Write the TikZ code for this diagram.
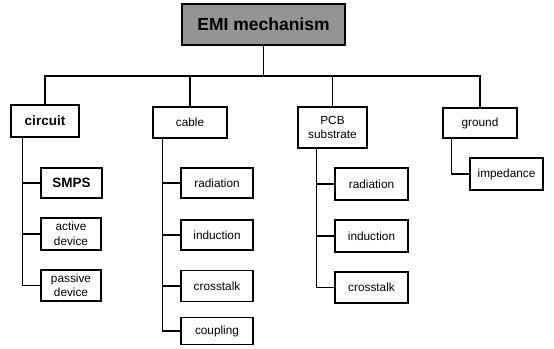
\documentclass[tikz,border=0pt]{standalone}
\usepackage{fontspec}
\setmainfont{Liberation Sans}
\begin{document}
\begin{tikzpicture}[x=1pt,y=-1pt,
  box/.style={draw=black,line width=1.1pt,fill=white,inner sep=0pt,
    align=center,font=\fontsize{11.8}{14.5}\selectfont},
  boldbox/.style={box,font=\fontsize{13.5}{16}\selectfont\bfseries},
  titlebox/.style={draw=black,line width=1.3pt,fill=black!42,inner sep=0pt,
    font=\fontsize{17.5}{20}\selectfont\bfseries},
  link/.style={draw=black,line width=1.1pt}]
\useasboundingbox (0,0) rectangle (554,348);

% root
\node[titlebox,minimum width=163pt,minimum height=41pt] (root) at (263.5,24.5) {EMI mechanism};

% categories
\node[boldbox,minimum width=68pt,minimum height=32pt] (circuit) at (45,121) {circuit};
\node[box,minimum width=74pt,minimum height=31pt] (cable) at (190,122.5) {cable};
\node[box,minimum width=69pt,minimum height=41pt] (pcb) at (332.5,127.5) {PCB\\substrate};
\node[box,minimum width=74pt,minimum height=30pt] (ground) at (480,123) {ground};

% circuit items
\node[boldbox,minimum width=61pt,minimum height=30pt] (smps) at (71.5,183) {SMPS};
\node[box,minimum width=60pt,minimum height=32pt] (active) at (71,234) {active\\device};
\node[box,minimum width=60pt,minimum height=31pt] (passive) at (71,285.5) {passive\\device};

% cable items
\node[box,minimum width=72pt,minimum height=30pt] (crad) at (217,183) {radiation};
\node[box,minimum width=72pt,minimum height=30pt] (cind) at (217,235) {induction};
\node[box,minimum width=72pt,minimum height=31pt] (ccross) at (217,286) {crosstalk};
\node[box,minimum width=72pt,minimum height=27pt] (ccoup) at (217,331) {coupling};

% PCB items
\node[box,minimum width=73pt,minimum height=32pt] (prad) at (371.5,184) {radiation};
\node[box,minimum width=73pt,minimum height=32pt] (pind) at (371.5,236) {induction};
\node[box,minimum width=73pt,minimum height=31pt] (pcross) at (371.5,287.5) {crosstalk};

% ground items
\node[box,minimum width=73pt,minimum height=32pt] (imp) at (506.5,174) {impedance};

% top-level bus
\coordinate (bus) at (0,76);
\draw[link] (root.south) -- (root.south |- bus);
\draw[link] (circuit.north) -- (circuit.north |- bus) -- (ground.north |- bus) -- (ground.north);
\draw[link] (cable.north) -- (cable.north |- bus);
\draw[link] (pcb.north) -- (pcb.north |- bus);

% circuit spine
\coordinate (cs) at ([xshift=12pt]circuit.south west);
\draw[link] (cs) |- (passive.west);
\draw[link] (cs |- smps.west) -- (smps.west);
\draw[link] (cs |- active.west) -- (active.west);

% cable spine
\coordinate (ks) at ([xshift=10pt]cable.south west);
\draw[link] (ks) |- (ccoup.west);
\draw[link] (ks |- crad.west) -- (crad.west);
\draw[link] (ks |- cind.west) -- (cind.west);
\draw[link] (ks |- ccross.west) -- (ccross.west);

% PCB spine
\coordinate (ps) at ([xshift=19pt]pcb.south west);
\draw[link] (ps) |- (pcross.west);
\draw[link] (ps |- prad.west) -- (prad.west);
\draw[link] (ps |- pind.west) -- (pind.west);

% ground spine
\coordinate (gs) at ([xshift=9pt]ground.south west);
\draw[link] (gs) |- (imp.west);
\end{tikzpicture}
\end{document}
